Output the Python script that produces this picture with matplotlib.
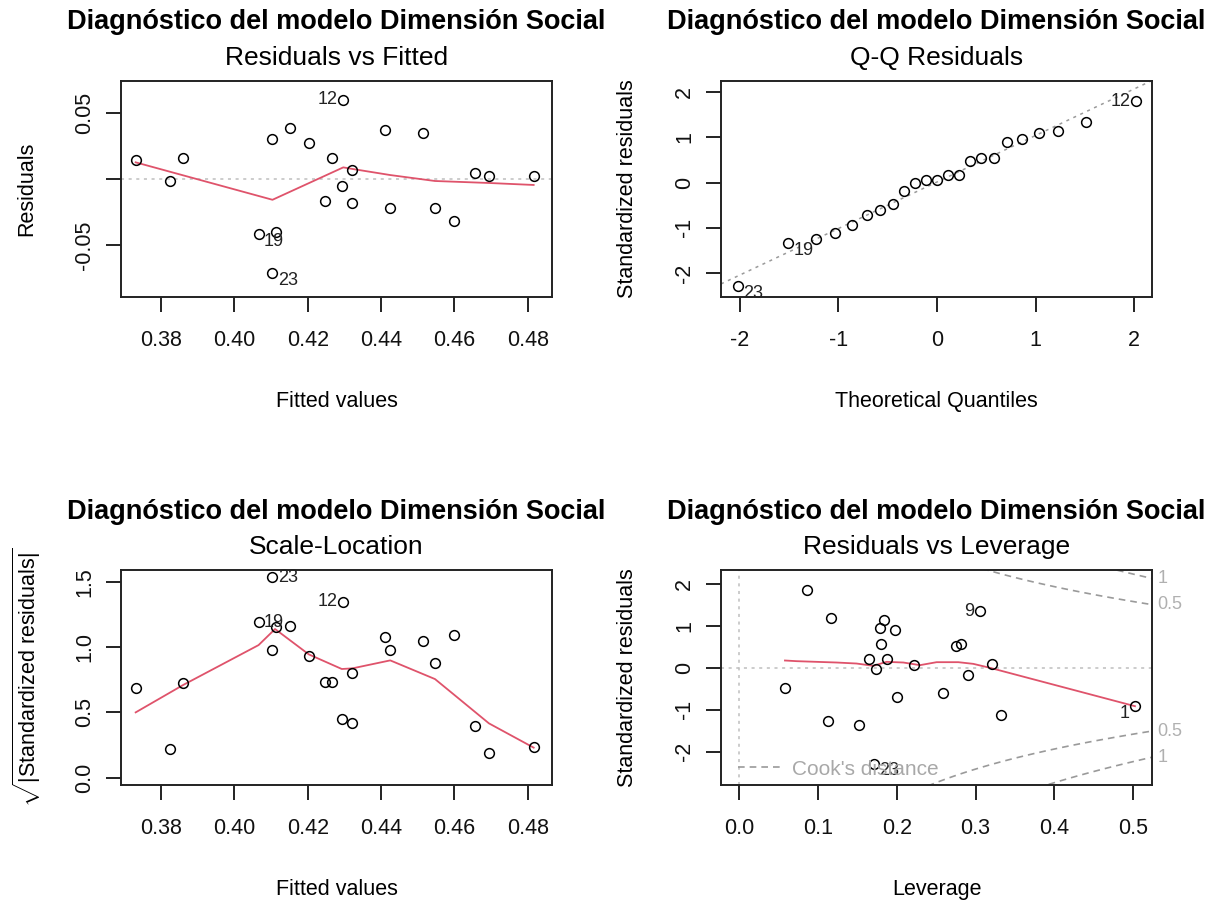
import numpy as np
import matplotlib.pyplot as plt
from matplotlib.lines import Line2D

plt.rcParams['font.family'] = ['Liberation Sans', 'DejaVu Sans']
plt.rcParams['mathtext.fontset'] = 'custom'
plt.rcParams['mathtext.rm'] = 'Liberation Sans'
plt.rcParams['mathtext.it'] = 'Liberation Sans:italic'
plt.rcParams['axes.unicode_minus'] = False

# data (n = 23)
fitted = [0.3731, 0.3825, 0.3860, 0.4066, 0.4104, 0.4114, 0.4104, 0.4151, 0.4203,
          0.4265, 0.4246, 0.4297, 0.4293, 0.4322, 0.4322, 0.4410, 0.4425, 0.4514,
          0.4547, 0.4600, 0.4656, 0.4694, 0.4816]
residuals = [0.0146, -0.0013, 0.0162, -0.0419, 0.0303, -0.0404, -0.0712, 0.0386, 0.0275,
             0.0162, -0.0164, 0.0598, -0.0051, 0.0066, -0.0179, 0.0374, -0.0220, 0.0348,
             -0.0217, -0.0318, 0.0048, 0.0020, 0.0020]
sqrt_std_res = [0.689, 0.222, 0.722, 1.191, 0.977, 1.153, 1.533, 1.163, 0.931,
                0.735, 0.735, 1.347, 0.449, 0.421, 0.804, 1.079, 0.977, 1.048,
                0.878, 1.092, 0.393, 0.191, 0.235]
# index of labelled points in the fitted panels
fit_ids = {'12': 11, '19': 3, '23': 6}

theo_q = [-2.02, -1.51, -1.23, -1.03, -0.86, -0.71, -0.58, -0.45, -0.33, -0.22, -0.11, 0.00,
          0.11, 0.22, 0.33, 0.45, 0.58, 0.71, 0.86, 1.03, 1.23, 1.51, 2.02]
std_sorted = [-2.29, -1.34, -1.25, -1.12, -0.93, -0.72, -0.61, -0.47, -0.19, -0.01, 0.07, 0.07,
              0.18, 0.18, 0.48, 0.55, 0.55, 0.89, 0.97, 1.10, 1.14, 1.34, 1.80]
qq_ids = {'23': 0, '19': 1, '12': 22}
qq_slope, qq_intercept = 1.03, 0.015

leverage = [0.0858, 0.1167, 0.0579, 0.1124, 0.1522, 0.1648, 0.1737, 0.1788, 0.1843, 0.1801,
            0.1872, 0.1982, 0.2003, 0.2219, 0.2591, 0.2747, 0.2815, 0.2899, 0.3056, 0.3204,
            0.3318, 0.5021, 0.1708]
std_lev = [1.853, 1.185, -0.477, -1.272, -1.368, 0.199, -0.032, 0.954, 1.137, 0.557,
           0.199, 0.907, -0.700, 0.064, -0.596, 0.517, 0.557, -0.159, 1.352, 0.103,
           -1.137, -0.915, -2.29]
lev_ids = {'9': 18, '1': 21, '23': 22}
n_params = 5
cook_levels = [0.5, 1]

# smoother lines
sm1_x = [0.3731, 0.4104, 0.4297, 0.4322, 0.4425, 0.4547, 0.4694, 0.4816]
sm1_y = [0.0126, -0.0157, 0.0088, 0.0076, 0.0030, -0.0015, -0.0030, -0.0045]
sm3_x = [0.3731, 0.3860, 0.4066, 0.4111, 0.4203, 0.4293, 0.4322, 0.4425, 0.4547, 0.4600, 0.4694, 0.4816]
sm3_y = [0.500, 0.709, 1.015, 1.138, 0.944, 0.832, 0.837, 0.898, 0.755, 0.633, 0.416, 0.230]
sm4_x = [0.0583, 0.0731, 0.1238, 0.1490, 0.1703, 0.1872, 0.2084, 0.2295, 0.2506, 0.2781, 0.2971, 0.3183, 0.5021]
sm4_y = [0.175, 0.159, 0.127, 0.103, 0.048, 0.143, 0.127, 0.064, 0.135, 0.135, 0.095, 0.0, -0.915]

main_title = 'Diagnóstico del modelo Dimensión Social'
RED = '#DF536B'
GREY = '#BEBEBE'
DGREY = '#9A9A9A'

fig = plt.figure(figsize=(12.22, 9.08), dpi=100)
W, H = 1222, 908


def make_ax(l, t, r, b):
    return fig.add_axes([l / W, 1 - b / H, (r - l) / W, (b - t) / H])


ax1 = make_ax(121, 81, 552, 297)
ax2 = make_ax(721, 81, 1152, 297)
ax3 = make_ax(121, 570, 552, 785)
ax4 = make_ax(721, 570, 1152, 785)


def style(ax, sub, xlab, ylab):
    for s in ax.spines.values():
        s.set_linewidth(1.4)
        s.set_color('#222222')
    ax.tick_params(direction='out', length=10.5, width=1.4, color='#222222',
                   labelsize=15.5, labelcolor='#111111')
    ax.tick_params(axis='x', pad=13)
    ax.tick_params(axis='y', pad=8)
    for lab in ax.get_yticklabels():
        lab.set_rotation(90)
        lab.set_va('center')
    ax.text(0.5, 1.272, main_title, transform=ax.transAxes, ha='center', va='center',
            fontsize=19.5, fontweight='bold')
    ax.text(0.5, 1.105, sub, transform=ax.transAxes, ha='center', va='center', fontsize=19)
    ax.text(0.5, -0.485, xlab, transform=ax.transAxes, ha='center', va='center', fontsize=15.5)
    ax.text(-0.218, 0.5, ylab, transform=ax.transAxes, ha='center', va='center',
            fontsize=15.5, rotation=90)


def pts(ax, x, y):
    ax.plot(x, y, 'o', ms=7, mfc='none', mec='black', mew=1.1, zorder=3)


def label_pts(ax, x, y, ids, left_of, down=()):
    for lab, i in ids.items():
        dx = -4 if lab in left_of else 4
        dy = -5 if lab in down else 0
        ax.annotate(lab, (x[i], y[i]), xytext=(dx, dy), textcoords='offset points',
                    ha='right' if lab in left_of else 'left', va='center',
                    fontsize=13, color='#222222', annotation_clip=False)


# 1: Residuals vs Fitted
ax1.axhline(0, color=GREY, ls=(0, (2, 3)), lw=1.1)
ax1.plot(sm1_x, sm1_y, color=RED, lw=1.3)
pts(ax1, fitted, residuals)
label_pts(ax1, fitted, residuals, fit_ids, left_of=('12',), down=('19', '23'))
ax1.set_xlim(0.3691, 0.4866)
ax1.set_ylim(-0.0892, 0.0741)
ax1.set_xticks([0.38, 0.40, 0.42, 0.44, 0.46, 0.48])
ax1.set_yticks([-0.05, 0.0, 0.05])
ax1.set_yticklabels(['-0.05', '', '0.05'])
style(ax1, 'Residuals vs Fitted', 'Fitted values', 'Residuals')

# 2: Q-Q
ax2.axline((0, qq_intercept), slope=qq_slope, color=DGREY, ls=(0, (2, 3)), lw=1.1)
pts(ax2, theo_q, std_sorted)
label_pts(ax2, theo_q, std_sorted, qq_ids, left_of=('12',), down=('19', '23'))
ax2.set_xlim(-2.19, 2.18)
ax2.set_ylim(-2.53, 2.25)
ax2.set_xticks([-2, -1, 0, 1, 2])
ax2.set_yticks([-2, -1, 0, 1, 2])
style(ax2, 'Q-Q Residuals', 'Theoretical Quantiles', 'Standardized residuals')

# 3: Scale-Location
ax3.plot(sm3_x, sm3_y, color=RED, lw=1.3)
pts(ax3, fitted, sqrt_std_res)
label_pts(ax3, fitted, sqrt_std_res, fit_ids, left_of=('12',))
ax3.set_xlim(0.3691, 0.4866)
ax3.set_ylim(-0.056, 1.590)
ax3.set_xticks([0.38, 0.40, 0.42, 0.44, 0.46, 0.48])
ax3.set_yticks([0.0, 0.5, 1.0, 1.5])
style(ax3, 'Scale-Location', 'Fitted values',
      r'$\sqrt{|\mathrm{Standardized\ residuals}|}$')

# 4: Residuals vs Leverage
xl4 = (-0.0228, 0.5237)
ax4.axhline(0, color=GREY, ls=(0, (2, 3)), lw=1.1)
ax4.axvline(0, color=GREY, ls=(0, (2, 3)), lw=1.1)
ax4.plot(sm4_x, sm4_y, color=RED, lw=1.3)
pts(ax4, leverage, std_lev)
label_pts(ax4, leverage, std_lev, lev_ids, left_of=('9', '1'), down=('1', '23'))
hh = np.linspace(min(leverage) / 10, xl4[1], 101)
ymult = np.sqrt(n_params * (1 - xl4[1]) / xl4[1])
for lev in cook_levels:
    cl = np.sqrt(lev * n_params * (1 - hh) / hh)
    ax4.plot(hh, cl, color=DGREY, ls=(0, (4, 3)), lw=1.2)
    ax4.plot(hh, -cl, color=DGREY, ls=(0, (4, 3)), lw=1.2)
    for sgn in (1, -1):
        ax4.text(1.012, sgn * np.sqrt(lev) * ymult, str(lev),
                 transform=ax4.get_yaxis_transform(), ha='left', va='center',
                 fontsize=13, color='#B0B0B0')
ax4.set_xlim(*xl4)
ax4.set_ylim(-2.795, 2.334)
ax4.set_xticks([0.0, 0.1, 0.2, 0.3, 0.4, 0.5])
ax4.set_yticks([-2, -1, 0, 1, 2])
ax4.legend([Line2D([], [], color=DGREY, ls=(0, (4, 3)), lw=1.2)], ["Cook's distance"],
           loc='lower left', frameon=False, fontsize=15, labelcolor='#A8A8A8',
           handlelength=2.2, handletextpad=0.4, borderaxespad=0.1, borderpad=0.2,
           bbox_to_anchor=(0.025, 0.0))
style(ax4, 'Residuals vs Leverage', 'Leverage', 'Standardized residuals')

fig.savefig('out.png', dpi=100)
